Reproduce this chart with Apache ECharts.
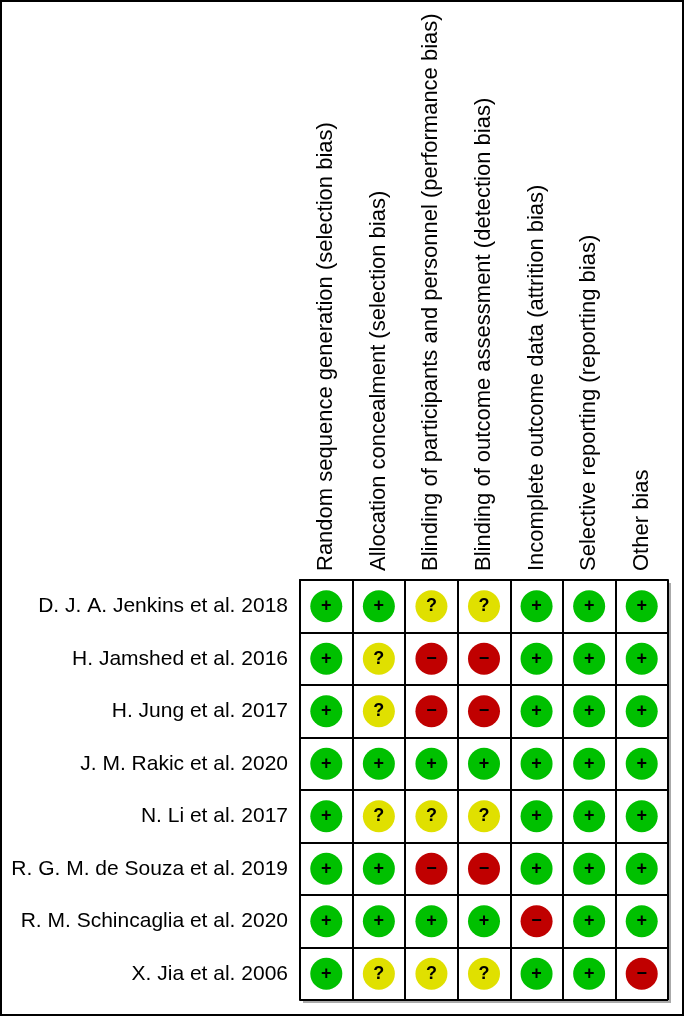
<!DOCTYPE html>
<html lang="en">
<head>
    <meta charset="UTF-8">
    <title>Risk of bias summary</title>
    <script src="https://cdn.jsdelivr.net/npm/echarts@6/dist/echarts.min.js"></script>
    <style>
        body { margin: 0; background: #fff; }
    </style>
</head>
<body>
<div id="main" style="width: 685px;height:1017px;"></div>
<script>
    // bias domains (columns)
    var domains = [
        'Random sequence generation (selection bias)',
        'Allocation concealment (selection bias)',
        'Blinding of participants and personnel (performance bias)',
        'Blinding of outcome assessment (detection bias)',
        'Incomplete outcome data (attrition bias)',
        'Selective reporting (reporting bias)',
        'Other bias'
    ];

    // studies (rows)
    var studies = [
        'D. J. A. Jenkins et al. 2018',
        'H. Jamshed et al. 2016',
        'H. Jung et al. 2017',
        'J. M. Rakic et al. 2020',
        'N. Li et al. 2017',
        'R. G. M. de Souza et al. 2019',
        'R. M. Schincaglia et al. 2020',
        'X. Jia et al. 2006'
    ];

    // judgement per study, one entry per domain: + low, ? unclear, - high
    var ratings = [
        ['+', '+', '?', '?', '+', '+', '+'],
        ['+', '?', '-', '-', '+', '+', '+'],
        ['+', '?', '-', '-', '+', '+', '+'],
        ['+', '+', '+', '+', '+', '+', '+'],
        ['+', '?', '?', '?', '+', '+', '+'],
        ['+', '+', '-', '-', '+', '+', '+'],
        ['+', '+', '+', '+', '-', '+', '+'],
        ['+', '?', '?', '?', '+', '+', '-']
    ];

    var colors = {'+': '#00c000', '?': '#e0e000', '-': '#c00000'};
    var glyphs = {'+': '+', '?': '?', '-': '\u2212'};

    var points = [];
    for (var i = 0; i < ratings.length; i++) {
        for (var j = 0; j < ratings[i].length; j++) {
            points.push({
                value: [j, i, ratings[i][j]],
                itemStyle: {color: colors[ratings[i][j]], opacity: 1}
            });
        }
    }

    var font = '"Liberation Sans", Arial, sans-serif';
    var myChart = echarts.init(document.getElementById('main'));

    var option = {
        animation: false,
        backgroundColor: '#fff',
        grid: {
            left: 300, top: 580, width: 368, height: 420,
            show: true, borderWidth: 0, backgroundColor: '#fff',
            shadowColor: '#aaa', shadowOffsetX: 3, shadowOffsetY: 3, shadowBlur: 0
        },
        xAxis: {
            type: 'category',
            position: 'top',
            data: domains,
            axisLine: {show: true, lineStyle: {color: '#000', width: 2}},
            axisTick: {show: false},
            splitLine: {show: true, lineStyle: {color: '#000', width: 2}},
            axisLabel: {
                rotate: -90, margin: 9, interval: 0,
                color: '#000', fontSize: 22, fontFamily: font
            }
        },
        yAxis: {
            type: 'category',
            inverse: true,
            data: studies,
            axisLine: {show: true, lineStyle: {color: '#000', width: 2}},
            axisTick: {show: false},
            splitLine: {show: true, lineStyle: {color: '#000', width: 2}},
            axisLabel: {
                margin: 12, interval: 0,
                color: '#000', fontSize: 21, fontFamily: font
            }
        },
        series: [{
            type: 'scatter',
            symbol: 'circle',
            symbolSize: 32,
            data: points,
            label: {
                show: true,
                position: 'inside',
                color: '#000',
                fontWeight: 'bold',
                fontFamily: font,
                fontSize: 18,
                formatter: function (p) {
                    return glyphs[p.value[2]];
                }
            },
            emphasis: {disabled: true}
        }],
        graphic: [{
            type: 'rect',
            shape: {x: 1, y: 1, width: 682, height: 1014},
            style: {fill: null, stroke: '#000', lineWidth: 2},
            silent: true
        }]
    };

    myChart.setOption(option);
</script>
</body>
</html>
